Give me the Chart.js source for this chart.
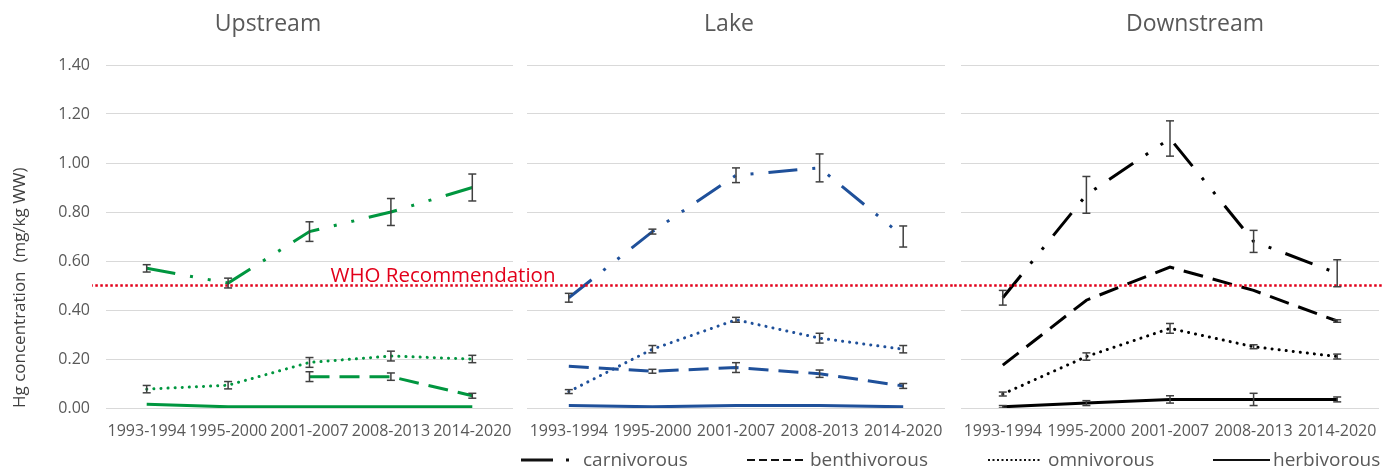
<!DOCTYPE html>
<html>
<head>
<meta charset="utf-8">
<script src="https://cdn.jsdelivr.net/npm/chart.js@4/dist/chart.umd.min.js"></script>
<style>
    body { margin: 0; background: #fff; font-family: 'Open Sans', sans-serif; }
    #wrap { position: relative; width: 1386px; height: 469px; overflow: hidden; }
    canvas { position: absolute; top: 0; }
    .ttl { position: absolute; top: 6px; line-height: 32px; font-size: 23px; color: #595959; transform: translateX(-50%); white-space: nowrap; }
    #who { position: absolute; left: 443px; top: 260px; line-height: 28px; font-size: 20.5px; color: #e2001a; transform: translateX(-50%); white-space: nowrap; z-index: 2; }
    #legend { position: absolute; left: 0; top: 439px; }
</style>
</head>
<body>
<div id="wrap">
    <canvas id="upChart" width="520" height="469" style="left:0px"></canvas>
    <canvas id="lakeChart" width="433" height="469" style="left:520px"></canvas>
    <canvas id="downChart" width="433" height="469" style="left:953px"></canvas>
    <div class="ttl" style="left:268px">Upstream</div>
    <div class="ttl" style="left:729px">Lake</div>
    <div class="ttl" style="left:1195px">Downstream</div>
    <div id="who">WHO Recommendation</div>
    <svg id="legend" width="1386" height="29" font-family="Open Sans" font-size="19" fill="#595959">
        <line x1="521" y1="21" x2="553" y2="21" stroke="#111" stroke-width="3"/>
        <line x1="566" y1="21" x2="569" y2="21" stroke="#111" stroke-width="3"/>
        <text x="583" y="27">carnivorous</text>
        <line x1="747" y1="21" x2="807" y2="21" stroke="#111" stroke-width="2" stroke-dasharray="8 4"/>
        <text x="810" y="27">benthivorous</text>
        <line x1="988" y1="21" x2="1040" y2="21" stroke="#111" stroke-width="2" stroke-dasharray="2 2.5"/>
        <text x="1048" y="27">omnivorous</text>
        <line x1="1213" y1="21" x2="1270" y2="21" stroke="#111" stroke-width="2"/>
        <text x="1273" y="27">herbivorous</text>
    </svg>
</div>
<script>
const periods = ['1993-1994', '1995-2000', '2001-2007', '2008-2013', '2014-2020'];
const whoLevel = 0.5;
const yMin = 0;
const yMax = 1.4;
const yStep = 0.2;

// Upstream
const upCarn = [0.57, 0.51, 0.72, 0.80, 0.90];
const upCarnErr = [0.015, 0.02, 0.04, 0.055, 0.055];
const upBenth = [null, null, 0.128, 0.128, 0.05];
const upBenthErr = [null, null, 0.02, 0.015, 0.01];
const upOmni = [0.077, 0.093, 0.186, 0.212, 0.20];
const upOmniErr = [0.015, 0.015, 0.02, 0.02, 0.015];
const upHerb = [0.015, 0.005, 0.005, 0.005, 0.005];
const upHerbErr = [null, null, null, null, null];

// Lake
const lakeCarn = [0.45, 0.72, 0.95, 0.98, 0.70];
const lakeCarnErr = [0.018, 0.01, 0.03, 0.057, 0.043];
const lakeBenth = [0.17, 0.15, 0.165, 0.14, 0.09];
const lakeBenthErr = [null, 0.008, 0.02, 0.015, 0.01];
const lakeOmni = [0.067, 0.24, 0.36, 0.285, 0.24];
const lakeOmniErr = [0.008, 0.015, 0.01, 0.02, 0.015];
const lakeHerb = [0.01, 0.005, 0.01, 0.01, 0.005];
const lakeHerbErr = [null, null, null, null, null];

// Downstream
const downCarn = [0.45, 0.87, 1.10, 0.68, 0.55];
const downCarnErr = [0.03, 0.075, 0.072, 0.045, 0.055];
const downBenth = [0.175, 0.44, 0.575, 0.48, 0.355];
const downBenthErr = [null, null, null, null, 0.005];
const downOmni = [0.057, 0.21, 0.325, 0.25, 0.21];
const downOmniErr = [0.008, 0.015, 0.02, 0.008, 0.01];
const downHerb = [0.005, 0.02, 0.035, 0.035, 0.035];
const downHerbErr = [0.005, 0.01, 0.015, 0.025, 0.01];

Chart.defaults.font.family = "'Open Sans', sans-serif";
Chart.defaults.color = '#595959';

// line look for each feeding group
const groupStyles = {
    carnivorous: { dash: [29, 15, 3, 15, 3, 15], cap: 'butt' },
    benthivorous: { dash: [20, 10], cap: 'butt' },
    omnivorous: { dash: [0.1, 7], cap: 'round' },
    herbivorous: { dash: [], cap: 'butt' }
};

function toPoints(values) {
    return values.map((v, i) => ({ x: i, y: v }));
}

function errorPoints(groups) {
    const pts = [];
    groups.forEach(g => {
        g.values.forEach((v, i) => {
            const e = g.errs[i];
            if (v == null || e == null) return;
            pts.push({ x: i, y: v - e }, { x: i, y: v + e }, { x: i, y: null });
        });
    });
    return pts;
}

function makePanel(id, color, groups, first, pad, whoClip) {
    const datasets = groups.map((g, k) => ({
        label: g.name,
        data: toPoints(g.values),
        borderColor: color,
        borderWidth: 3,
        borderDash: groupStyles[g.name].dash,
        borderCapStyle: groupStyles[g.name].cap,
        pointRadius: 0,
        tension: 0,
        spanGaps: false,
        order: 2 + k
    }));

    datasets.push({
        label: 'error',
        data: errorPoints(groups),
        borderColor: '#404040',
        borderWidth: 1.5,
        pointStyle: 'line',
        pointRadius: 4,
        pointBorderColor: '#404040',
        pointBorderWidth: 1.5,
        spanGaps: false,
        order: 0
    });

    datasets.push({
        label: 'WHO',
        data: [{ x: -1, y: whoLevel }, { x: 5, y: whoLevel }],
        borderColor: '#e2001a',
        borderWidth: 2.5,
        borderDash: [2.5, 2.5],
        pointRadius: 0,
        clip: whoClip,
        order: 1
    });

    return new Chart(document.getElementById(id), {
        type: 'line',
        data: { datasets },
        options: {
            responsive: false,
            animation: false,
            devicePixelRatio: 1,
            layout: { padding: { left: pad[0], right: pad[1], top: 65, bottom: 0 } },
            plugins: {
                legend: { display: false },
                tooltip: { enabled: false }
            },
            scales: {
                x: {
                    type: 'linear',
                    min: -0.5,
                    max: 4.5,
                    afterBuildTicks: s => { s.ticks = periods.map((_, i) => ({ value: i })); },
                    afterFit: s => {
                        s.height = 61;
                        s.paddingLeft = 0;
                        s.paddingRight = 0;
                    },
                    ticks: {
                        callback: v => periods[v],
                        autoSkip: false,
                        maxRotation: 0,
                        padding: 14,
                        color: '#595959',
                        font: { size: 16 }
                    },
                    grid: { display: false, drawTicks: false },
                    border: { display: false }
                },
                y: {
                    min: yMin,
                    max: yMax,
                    afterFit: s => { s.width = first ? 106 : 0; },
                    ticks: {
                        display: first,
                        stepSize: yStep,
                        callback: v => v.toFixed(2),
                        padding: 16,
                        color: '#595959',
                        font: { size: 16 }
                    },
                    grid: { color: '#d9d9d9', lineWidth: 1, drawTicks: false },
                    border: { display: false },
                    title: {
                        display: first,
                        text: 'Hg concentration  (mg/kg WW)',
                        align: 'start',
                        color: '#404040',
                        font: { size: 17 },
                        padding: { top: 10, bottom: 0 }
                    }
                }
            }
        }
    });
}

makePanel('upChart', '#00963f', [
    { name: 'carnivorous', values: upCarn, errs: upCarnErr },
    { name: 'benthivorous', values: upBenth, errs: upBenthErr },
    { name: 'omnivorous', values: upOmni, errs: upOmniErr },
    { name: 'herbivorous', values: upHerb, errs: upHerbErr }
], true, [0, 7], { left: 14, right: 7, top: 0, bottom: 0 });

makePanel('lakeChart', '#1f509a', [
    { name: 'carnivorous', values: lakeCarn, errs: lakeCarnErr },
    { name: 'benthivorous', values: lakeBenth, errs: lakeBenthErr },
    { name: 'omnivorous', values: lakeOmni, errs: lakeOmniErr },
    { name: 'herbivorous', values: lakeHerb, errs: lakeHerbErr }
], false, [7, 8], { left: 7, right: 8, top: 0, bottom: 0 });

makePanel('downChart', '#000000', [
    { name: 'carnivorous', values: downCarn, errs: downCarnErr },
    { name: 'benthivorous', values: downBenth, errs: downBenthErr },
    { name: 'omnivorous', values: downOmni, errs: downOmniErr },
    { name: 'herbivorous', values: downHerb, errs: downHerbErr }
], false, [8, 7], { left: 8, right: 4, top: 0, bottom: 0 });
</script>
</body>
</html>
